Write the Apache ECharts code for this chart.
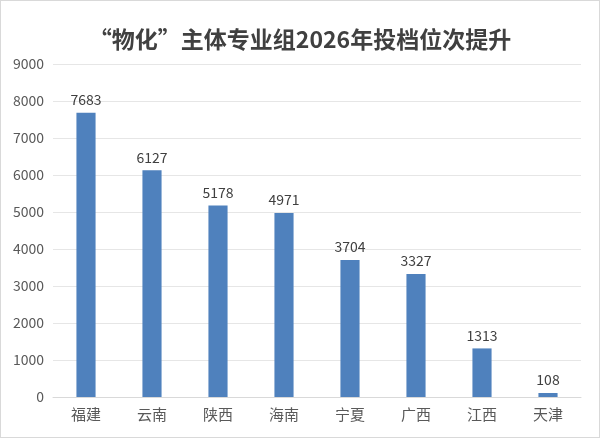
<!DOCTYPE html>
<html>
<head>
<meta charset="utf-8">
<script src="https://cdn.jsdelivr.net/npm/echarts@6/dist/echarts.min.js"></script>
<style>
  html, body { margin: 0; padding: 0; background: #fff; }
  #main { width: 598px; height: 436px; border: 1px solid #d9d9d9; }
</style>
</head>
<body>
<div id="main"></div>
<script>
const provinces = ['福建', '云南', '陕西', '海南', '宁夏', '广西', '江西', '天津'];
const rankGain = [7683, 6127, 5178, 4971, 3704, 3327, 1313, 108];

const chart = echarts.init(document.getElementById('main'));
const font = '"Microsoft YaHei", "Noto Sans CJK SC", sans-serif';

chart.setOption({
    animation: false,
    title: {
        text: '“物化”主体专业组2026年投档位次提升',
        left: 'center',
        top: 22,
        textStyle: {
            fontFamily: font,
            fontSize: 23,
            fontWeight: 'bold',
            color: '#404040'
        }
    },
    grid: {
        left: 52,
        right: 18,
        top: 63,
        bottom: 40
    },
    xAxis: {
        type: 'category',
        data: provinces,
        axisTick: { show: false },
        axisLine: { lineStyle: { color: '#d9d9d9' } },
        axisLabel: {
            fontFamily: font,
            fontSize: 15,
            color: '#595959',
            margin: 10
        }
    },
    yAxis: {
        type: 'value',
        min: 0,
        max: 9000,
        interval: 1000,
        axisLine: { show: false },
        axisTick: { show: false },
        splitLine: { lineStyle: { color: '#e6e6e6' } },
        axisLabel: {
            fontFamily: font,
            fontSize: 14,
            color: '#595959',
            margin: 9,
            formatter: v => String(v)
        }
    },
    series: [{
        type: 'bar',
        data: rankGain,
        barWidth: '29%',
        itemStyle: { color: '#4f81bd' },
        label: {
            show: true,
            position: 'top',
            distance: 6,
            fontFamily: font,
            fontSize: 14,
            color: '#404040'
        }
    }]
});
</script>
</body>
</html>
